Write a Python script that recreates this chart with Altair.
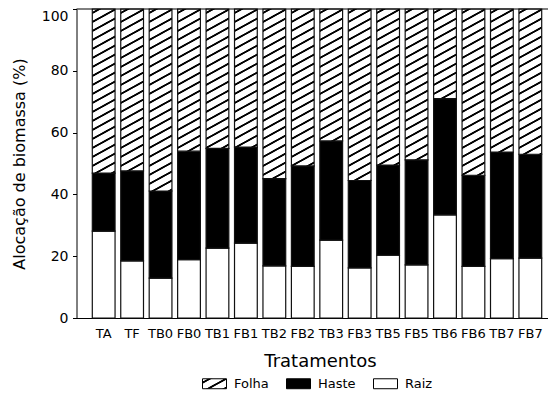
import json
import altair as alt

# ---- data ----
categories = ["TA", "TF", "TB0", "FB0", "TB1", "FB1", "TB2", "FB2",
              "TB3", "FB3", "TB5", "FB5", "TB6", "FB6", "TB7", "FB7"]
raiz = [28.1, 18.5, 12.9, 18.9, 22.6, 24.2, 16.9, 16.7,
        25.2, 16.2, 20.3, 17.2, 33.4, 16.7, 19.2, 19.4]
haste = [18.8, 29.1, 28.2, 35.1, 32.3, 31.1, 28.2, 32.5,
         32.1, 28.3, 29.2, 34.0, 37.6, 29.5, 34.5, 33.6]
folha = [53.1, 52.4, 58.9, 46.0, 45.1, 44.7, 54.9, 50.8,
         42.7, 55.5, 50.5, 48.8, 29.0, 53.8, 46.3, 47.0]
parts = ["Folha", "Haste", "Raiz"]

# ---- layout / style ----
W, H = 471.5, 309
P_IN, P_OUT, ALIGN = 0.2, 0.3885, 0.715
FONT = "DejaVu Sans"
step = W / (len(categories) - P_IN + 2 * P_OUT)
bandw = step * (1 - P_IN)


def hatch(w, h, slope=0.55, period=9.0, lw=2.0):
    """Linear gradient (bbox units) that draws '/' stripes of constant pixel look."""
    Q = slope * w + h
    k = Q / (slope * slope * w * w + h * h)
    stops = [{"offset": 0, "color": "white"}]
    q = 3.0
    last = 0.0
    while q - 0.5 < Q:
        for off, col in [(q - 0.5, "white"), (q + 0.3, "black"),
                         (q + lw - 0.3, "black"), (q + lw + 0.5, "white")]:
            o = min(max(off / Q, last), 1.0)
            stops.append({"offset": round(o, 5), "color": col})
            last = o
        q += period
    stops.append({"offset": 1, "color": "white"})
    return {"gradient": "linear", "x1": 0, "y1": 0,
            "x2": round(k * slope * w, 5), "y2": round(k * h, 5), "stops": stops}


rows = []
for i, c in enumerate(categories):
    r, s, f = raiz[i], haste[i], folha[i]
    rows.append({"cat": c, "part": "Raiz", "y0": 0, "y1": r, "fillv": "white"})
    rows.append({"cat": c, "part": "Haste", "y0": r, "y1": r + s, "fillv": "black"})
    rows.append({"cat": c, "part": "Folha", "y0": r + s, "y1": r + s + f,
                 "fillv": hatch(bandw, f * H / 100.0)})

bars = alt.Chart(alt.Data(values=rows)).mark_bar(
    stroke="#111", strokeWidth=1.2
).encode(
    x=alt.X("cat:N", sort=categories,
            scale=alt.Scale(paddingInner=P_IN, paddingOuter=P_OUT, align=ALIGN),
            axis=alt.Axis(title="Tratamentos", labelAngle=0, ticks=False, tickSize=0,
                          labelPadding=9, labelFontSize=13, titleFontSize=18,
                          titleFontWeight="normal", titlePadding=12,
                          domainColor="black", titleX=243.5)),
    y=alt.Y("y1:Q", scale=alt.Scale(domain=[0, 100], nice=False),
            axis=alt.Axis(values=[0, 20, 40, 60, 80, 100],
                          title="Alocação de biomassa (%)", titleFontSize=16,
                          titleFontWeight="normal", titlePadding=14,
                          labelFontSize=14, labelPadding=4.5, tickSize=4,
                          tickColor="black", domainColor="black", grid=False,
                          labelBaseline={"condition": {"test": "datum.value == 100",
                                                       "value": "top"},
                                         "value": "middle"})),
    y2="y0:Q",
    fill=alt.Fill("fillv:N", scale=None, legend=None),
)

top_line = alt.Chart(alt.Data(values=[{"v": 100}])).mark_rule(
    color="black", strokeWidth=1
).encode(y="v:Q")

legend_expr = json.dumps(hatch(24, 10))
legend_layer = alt.Chart(alt.Data(values=[{"part": p} for p in parts])).mark_bar(
    stroke="black", strokeWidth=1
).encode(
    color=alt.Color("part:N",
                    scale=alt.Scale(domain=parts,
                                    range=[alt.ExprRef(expr=legend_expr), "black", "white"]),
                    legend=alt.Legend(title=None, orient="none", direction="horizontal",
                                      legendX=131.5, legendY=368,
                                      symbolType="M-2,-0.83H2V0.83H-2Z", symbolSize=144,
                                      symbolStrokeColor="black", symbolStrokeWidth=1,
                                      labelFont=FONT, labelFontSize=13, labelColor="black",
                                      labelOffset=13, columnPadding=15, padding=0))
).transform_filter("false")

chart = alt.layer(bars, top_line, legend_layer).properties(
    width=W, height=H,
    autosize=alt.AutoSizeParams(type="none"),
    padding={"left": 68.5, "top": 1, "right": 0, "bottom": 74},
).configure_view(stroke=None).configure_axis(
    labelFont=FONT, titleFont=FONT, labelColor="black", titleColor="black"
)

chart.save("out.html", embed_options={"renderer": "svg", "actions": False})
